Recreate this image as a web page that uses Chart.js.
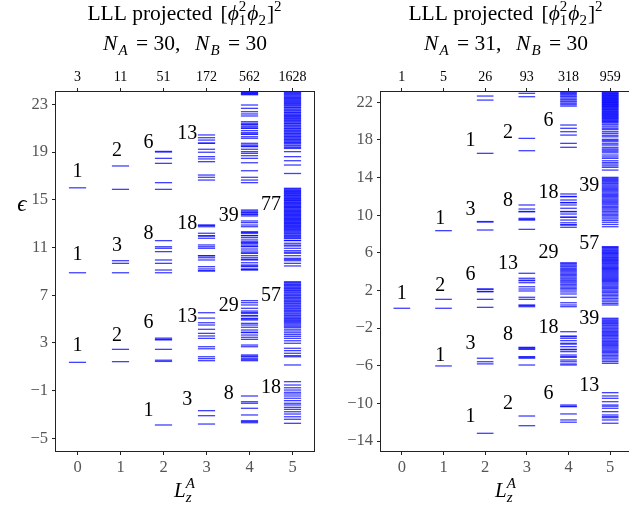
<!DOCTYPE html>
<html>
<head>
<meta charset="utf-8">
<script src="https://cdn.jsdelivr.net/npm/chart.js@4.4.1/dist/chart.umd.min.js"></script>
<style>
html, body { margin: 0; padding: 0; background: #fff; overflow: hidden; width: 629px; height: 508px; }
.box { position: absolute; top: 0; width: 330px; height: 508px; }
</style>
</head>
<body>
<div class="box" style="left:0"><canvas id="chartA" width="330" height="508"></canvas></div>
<div class="box" style="left:320px"><canvas id="chartB" width="330" height="508"></canvas></div>
<script>
// energy levels, one array per L_z^A sector
// left panel: N_A = 30, N_B = 30
const levelsA0 = [1.37, 8.88, 16.0];
const levelsA1 = [1.43, 2.46, 8.88, 9.67, 9.89, 15.87, 17.83];
const levelsA2 = [-3.88, 1.45, 1.55, 2.46, 3.25, 3.3, 3.4, 8.88, 9.11, 9.67, 9.95, 10.65, 10.93, 11.06, 11.57,
  15.87, 16.43, 18.05, 18.47, 19.0, 19.05];
const levelsA3 = [-3.8, -3.1, -2.68, 1.51, 1.68, 1.84, 2.51, 2.68, 3.38, 3.58, 3.8, 4.14, 4.5, 4.69, 5.08, 5.53,
  9.03, 9.05, 9.2, 9.39, 9.95, 10.14, 10.3, 10.31, 10.93, 11.06, 11.21, 11.77, 11.95, 11.99, 12.19, 12.74, 12.85, 12.88,
  16.65, 16.88, 17.07, 18.19, 18.42, 18.61, 18.98, 19.23, 19.73, 19.75, 20.0, 20.2, 20.43];
const levelsA4 = [-3.69, -3.6, -3.52, -3.04, -2.48, -2.06, -1.93, -1.45,
  1.51, 1.6, 1.71, 1.84, 1.9, 1.99, 2.68, 2.82, 3.3, 3.47, 3.66, 3.86, 3.9, 4.08, 4.31, 4.5, 4.64, 4.92, 5.0, 5.06,
  5.25, 5.3, 5.48, 5.55, 5.67, 5.9, 6.18, 6.37, 6.54,
  9.11, 9.15, 9.2, 9.39, 9.45, 9.53, 9.72, 9.95, 10.0, 10.14, 10.31, 10.51, 10.55, 10.7, 10.87, 11.06, 11.1, 11.21,
  11.35, 11.4, 11.48, 11.63, 11.82, 11.99, 12.0, 12.19, 12.25, 12.32, 12.74, 12.88, 13.08, 13.22, 13.64, 13.75, 13.8,
  13.9, 13.95, 14.05, 14.14,
  16.43, 16.65, 16.88, 17.43, 18.1, 18.47, 18.69, 18.89, 19.03, 19.23, 19.45, 19.5, 19.59, 19.73, 20.15, 20.28, 20.49,
  20.5, 20.62, 20.79, 20.99, 21.0, 21.12, 21.27, 21.3, 21.41, 21.54, 22.02, 22.19, 22.38, 22.66, 22.94,
  23.8, 23.85, 23.9, 23.95, 24.0];
const levelsA5 = [-3.74, -3.4, -3.19, -2.96, -2.77, -2.57, -2.4, -2.2, -2.06, -1.84, -1.64, -1.45, -1.28, -1.14, -0.95,
  -0.76, -0.53, -0.25,
  1.15, 1.84, 1.93, 2.13, 2.35, 2.55, 2.97, 3.18, 3.38, 3.55, 3.7, 3.85, 4.0, 4.15, 4.3, 4.4, 4.5, 4.6, 4.7, 4.8, 4.88,
  4.98, 5.05, 5.15, 5.25, 5.32, 5.42, 5.5, 5.6, 5.68, 5.75, 5.85, 5.92, 6.02, 6.1, 6.18, 6.28, 6.35, 6.45, 6.52, 6.6,
  6.7, 6.78, 6.85, 6.95, 7.02, 7.1, 7.2, 7.28, 7.38, 7.45, 7.55, 7.62, 7.7, 7.8, 7.88, 7.95, 8.05, 8.13,
  9.45, 9.67, 9.89, 10.0, 10.09, 10.31, 10.51, 10.6, 10.73, 10.93, 11.12, 11.2, 11.35, 11.57, 11.6, 11.77, 11.8, 11.9,
  11.98, 12.05, 12.15, 12.22, 12.3, 12.38, 12.45, 12.52, 12.6, 12.68, 12.75, 12.82, 12.88, 12.95, 13.02, 13.08, 13.15,
  13.22, 13.28, 13.35, 13.42, 13.48, 13.55, 13.62, 13.68, 13.75, 13.82, 13.88, 13.95, 14.02, 14.08, 14.15, 14.22,
  14.3, 14.35, 14.42, 14.48, 14.55, 14.62, 14.7, 14.75, 14.82, 14.9, 14.95, 15.02, 15.1, 15.15, 15.22, 15.3, 15.35,
  15.42, 15.5, 15.55, 15.62, 15.7, 15.75, 15.82, 15.9, 15.96,
  17.2, 17.91, 18.27, 18.61, 19.03, 19.3, 19.38, 19.5, 19.58, 19.7, 19.8, 19.85, 19.95, 20.05, 20.1, 20.2, 20.3,
  20.35, 20.45, 20.55, 20.6, 20.7, 20.78, 20.85, 20.95, 21.0, 21.1, 21.18, 21.25, 21.35, 21.4, 21.5, 21.58, 21.65,
  21.75, 21.8, 21.9, 21.98, 22.05, 22.12, 22.2, 22.3, 22.35, 22.45, 22.52, 22.6, 22.7, 22.75, 22.85, 22.92, 23.0,
  23.08, 23.15, 23.25, 23.3, 23.4, 23.48, 23.55, 23.62, 23.7, 23.78, 23.85, 23.92, 24.0];

// right panel: N_A = 31, N_B = 30
const levelsB0 = [0.11];
const levelsB1 = [-6.02, 0.11, 1.06, 8.36];
const levelsB2 = [-13.18, -5.8, -5.57, -5.2, 0.21, 1.06, 1.87, 1.9, 2.13, 2.16, 8.43, 9.28, 9.33, 16.58, 22.24, 22.67];
const levelsB3 = [-12.37, -11.34, -5.92, -5.2, -5.1, -5.03, -4.25, -4.2, -4.1, -4.04,
  0.28, 0.4, 0.46, 1.06, 1.28, 1.95, 2.16, 2.4, 2.83, 3.04, 3.1, 3.3, 3.83,
  8.5, 9.49, 9.55, 9.67, 10.37, 10.4, 10.66, 11.09, 16.86, 18.17, 22.6, 22.96];
const levelsB4 = [-12.0, -11.76, -11.12, -10.35, -10.3, -10.17,
  -5.92, -5.81, -5.57, -5.39, -5.1, -5.03, -4.86, -4.5, -4.3, -4.25, -3.97, -3.7, -3.61, -3.33, -3.08, -2.9, -2.84, -2.38,
  0.28, 0.46, 0.7, 1.28, 1.63, 1.85, 2.05, 2.2, 2.35, 2.5, 2.65, 2.8, 2.92, 3.05, 3.2, 3.32, 3.45, 3.6, 3.72, 3.85,
  3.98, 4.1, 4.22, 4.35, 4.5, 4.6, 4.72, 4.85, 4.95,
  8.72, 8.96, 9.0, 9.2, 9.49, 9.78, 9.8, 10.13, 10.37, 10.4, 10.74, 11.09, 11.33, 11.35, 11.62, 11.97, 12.0, 12.26,
  17.22, 17.64, 18.52, 18.88, 19.24, 19.59,
  21.6, 21.75, 21.9, 22.05, 22.15, 22.3, 22.45, 22.6, 22.7, 22.85, 22.95, 23.05];
const levelsB5 = [-12.11, -11.76, -11.52, -11.4, -11.23, -10.88, -10.52, -10.3, -10.17, -9.82, -9.46, -9.21, -8.86,
  -5.74, -5.55, -5.38, -5.2, -5.05, -4.9, -4.75, -4.6, -4.48, -4.35, -4.22, -4.1, -3.98, -3.85, -3.75, -3.62, -3.5,
  -3.4, -3.28, -3.15, -3.05, -2.92, -2.8, -2.7, -2.58, -2.45, -2.35, -2.22, -2.1, -2.0, -1.88, -1.75, -1.65, -1.52,
  -1.42, -1.3, -1.18, -1.05, -0.95,
  0.46, 0.62, 0.8, 0.98, 1.15, 1.32, 1.48, 1.62, 1.78, 1.92, 2.05, 2.2, 2.32, 2.45, 2.58, 2.7, 2.82, 2.95, 3.05,
  3.15, 3.25, 3.35, 3.45, 3.55, 3.65, 3.75, 3.85, 3.95, 4.05, 4.15, 4.25, 4.35, 4.42, 4.52, 4.62, 4.72, 4.82, 4.9,
  5.0, 5.1, 5.2, 5.28, 5.38, 5.48, 5.55, 5.65, 5.75, 5.85, 5.95, 6.02, 6.12, 6.22, 6.3, 6.4, 6.5, 6.58, 6.66,
  8.78, 9.02, 9.25, 9.45, 9.62, 9.8, 9.95, 10.1, 10.25, 10.4, 10.55, 10.68, 10.82, 10.95, 11.1, 11.22, 11.35, 11.48,
  11.6, 11.72, 11.85, 11.98, 12.1, 12.22, 12.35, 12.48, 12.6, 12.72, 12.85, 12.98, 13.1, 13.22, 13.35, 13.45, 13.58,
  13.7, 13.8, 13.92, 14.03,
  14.8, 15.09, 15.25, 15.44, 15.6, 15.79, 16.05, 16.2, 16.4, 16.64, 16.8, 16.93, 17.05, 17.22, 17.46, 17.6, 17.81,
  17.95, 18.07, 18.34, 18.5, 18.7, 18.88, 19.1, 19.24, 19.4, 19.59, 19.7,
  19.85, 19.95, 20.02, 20.1, 20.2, 20.28, 20.35, 20.42, 20.5, 20.58, 20.65, 20.72, 20.8, 20.88, 20.95, 21.02, 21.1,
  21.18, 21.25, 21.32, 21.4, 21.48, 21.55, 21.6, 21.68, 21.75, 21.8, 21.88, 21.95, 22.0, 22.08, 22.15, 22.2, 22.28,
  22.35, 22.4, 22.48, 22.55, 22.6, 22.68, 22.75, 22.8, 22.88, 22.95, 23.0, 23.08];

// number of states per sector (top axis)
const countsA = [3, 11, 51, 172, 562, 1628];
const countsB = [1, 5, 26, 93, 318, 959];

// band multiplicities and the energy where each label sits: [L, energy, label]
const bandLabelsA = [
  [0, 17.37, '1'], [0, 10.37, '1'], [0, 2.78, '1'],
  [1, 19.1, '2'], [1, 11.12, '3'], [1, 3.6, '2'],
  [2, 19.8, '6'], [2, 12.13, '8'], [2, 4.71, '6'], [2, -2.68, '1'],
  [3, 20.57, '13'], [3, 13.02, '18'], [3, 5.2, '13'], [3, -1.76, '3'],
  [4, 13.65, '39'], [4, 6.14, '29'], [4, -1.22, '8'],
  [5, 14.56, '77'], [5, 6.95, '57'], [5, -0.77, '18']
];
const bandLabelsB = [
  [0, 1.7, '1'],
  [1, 9.58, '1'], [1, 2.48, '2'], [1, -4.94, '1'],
  [2, 17.96, '1'], [2, 10.55, '3'], [2, 3.65, '6'], [2, -3.61, '3'], [2, -11.41, '1'],
  [3, 18.79, '2'], [3, 11.53, '8'], [3, 4.89, '13'], [3, -2.73, '8'], [3, -9.99, '2'],
  [4, 20.04, '6'], [4, 12.41, '18'], [4, 6.04, '29'], [4, -1.93, '18'], [4, -9.02, '6'],
  [5, 13.13, '39'], [5, 6.92, '57'], [5, -1.05, '39'], [5, -8.13, '13']
];

const xTicks = [0, 1, 2, 3, 4, 5];
const yTicksA = [-5, -1, 3, 7, 11, 15, 19, 23];
const yTicksB = [-14, -10, -6, -2, 2, 6, 10, 14, 18, 22];

const SERIF = '"Liberation Serif", "DejaVu Serif", serif';
const labelShift = [0, 0.92, 1.65, 2.55, 3.52, 4.5];
const halfWidth = 0.2;

function font(it, size) {
  return (it ? 'italic ' : '') + size + 'px ' + SERIF;
}

// draws a short run of text with sub/superscripts, centred on cx
function drawRich(ctx, parts, cx, baseY, size) {
  const small = Math.round(size * 0.7);
  const widths = parts.map(p => {
    if (p.stack) {
      ctx.font = font(p.it, small);
      return Math.max(ctx.measureText(p.stack[0]).width, ctx.measureText(p.stack[1]).width) + 1;
    }
    ctx.font = font(p.it, p.pos ? small : size);
    return ctx.measureText(p.t).width + (p.pos ? 1 : 0) + (p.extra || 0);
  });
  let x = cx - widths.reduce((a, b) => a + b, 0) / 2;
  ctx.textAlign = 'left';
  ctx.textBaseline = 'alphabetic';
  parts.forEach((p, i) => {
    if (p.stack) {
      ctx.font = font(p.it, small);
      ctx.fillText(p.stack[0], x, baseY - size * 0.42);
      ctx.fillText(p.stack[1], x, baseY + size * 0.25);
    } else {
      ctx.font = font(p.it, p.pos ? small : size);
      const dy = p.pos === 'sup' ? -size * 0.42 : p.pos === 'sub' ? size * 0.25 : 0;
      ctx.fillText(p.t, x, baseY + dy);
    }
    x += widths[i];
  });
}

function makeSpectrum(id, levels, counts, yMin, yMax, yTicks, bandLabels, nA, axisW, padRight, yLabel) {
  const points = [];
  levels.forEach((arr, L) => arr.forEach(e => points.push({ x: L, y: e })));

  const decor = {
    id: 'decor',
    afterDraw(chart) {
      const { ctx, chartArea: a, scales } = chart;
      ctx.save();
      ctx.strokeStyle = '#222';
      ctx.lineWidth = 1;
      ctx.strokeRect(Math.round(a.left) - 0.5, Math.round(a.top) - 0.5,
        Math.round(a.right - a.left) + 1, Math.round(a.bottom - a.top) + 1);

      ctx.fillStyle = '#000';
      ctx.textAlign = 'center';
      ctx.textBaseline = 'middle';
      ctx.font = font(false, 20);
      bandLabels.forEach(([L, e, txt]) => {
        ctx.fillText(txt, scales.x.getPixelForValue(labelShift[L]), scales.y.getPixelForValue(e));
      });

      const cx = (a.left + a.right) / 2;
      drawRich(ctx, [
        { t: 'LLL projected ', extra: 3 }, { t: '[' }, { t: 'ϕ', it: true }, { stack: ['2', '1'] },
        { t: 'ϕ', it: true }, { t: '2', pos: 'sub' }, { t: ']' }, { t: '2', pos: 'sup' }
      ], cx, 20, 21.5);
      drawRich(ctx, [
        { t: 'N', it: true, extra: 1 }, { t: 'A', it: true, pos: 'sub', extra: 2 }, { t: ' = ' + nA + ',  ', extra: 4 },
        { t: 'N', it: true, extra: 1 }, { t: 'B', it: true, pos: 'sub', extra: 2 }, { t: ' = 30' }
      ], cx, 50, 21.5);
      drawRich(ctx, [{ t: 'L', it: true }, { stack: ['A', 'z'], it: true }], cx, 497, 21);

      if (yLabel) {
        ctx.font = font(true, 23);
        ctx.textAlign = 'center';
        ctx.textBaseline = 'middle';
        ctx.fillText('ϵ', 22, 205);
      }
      ctx.restore();
    }
  };

  const tickGrid = { drawOnChartArea: false, drawTicks: true, tickLength: 4, color: '#222' };

  return new Chart(document.getElementById(id), {
    type: 'scatter',
    data: {
      datasets: [{
        data: points,
        showLine: false,
        pointStyle: 'line',
        pointRadius: c => {
          const s = c.chart.scales.x;
          return s.getPixelForValue(halfWidth) - s.getPixelForValue(0);
        },
        pointBorderColor: 'rgba(0, 0, 255, 0.75)',
        pointBackgroundColor: 'rgba(0, 0, 0, 0)',
        pointBorderWidth: 1.3
      }]
    },
    options: {
      responsive: false,
      animation: false,
      devicePixelRatio: 1,
      events: [],
      layout: { padding: { top: 70, bottom: 30, left: 0, right: padRight } },
      plugins: { legend: { display: false }, tooltip: { enabled: false } },
      scales: {
        x: {
          type: 'linear', position: 'bottom', min: -0.5, max: 5.5,
          afterBuildTicks: s => { s.ticks = xTicks.map(v => ({ value: v })); },
          afterFit: s => { s.height = 27; },
          grid: tickGrid, border: { display: false },
          ticks: { font: { family: SERIF, size: 16.5 }, color: '#555', padding: 3, maxRotation: 0, autoSkip: false }
        },
        x2: {
          type: 'linear', position: 'top', min: -0.5, max: 5.5,
          afterBuildTicks: s => { s.ticks = xTicks.map(v => ({ value: v })); },
          afterFit: s => { s.height = 22; },
          grid: tickGrid, border: { display: false },
          ticks: { font: { family: SERIF, size: 14 }, color: '#000', padding: 2, maxRotation: 0, autoSkip: false,
            callback: v => counts[v] }
        },
        y: {
          type: 'linear', min: yMin, max: yMax,
          afterBuildTicks: s => { s.ticks = yTicks.map(v => ({ value: v })); },
          afterFit: s => { s.width = axisW; },
          grid: tickGrid, border: { display: false },
          ticks: { font: { family: SERIF, size: 16.5 }, color: '#555', padding: 4, autoSkip: false,
            callback: v => String(v).replace('-', '\u2212') }
        }
      }
    },
    plugins: [decor]
  });
}

makeSpectrum('chartA', [levelsA0, levelsA1, levelsA2, levelsA3, levelsA4, levelsA5], countsA,
  -6.06, 24.03, yTicksA, bandLabelsA, 30, 56, 16, true);
makeSpectrum('chartB', [levelsB0, levelsB1, levelsB2, levelsB3, levelsB4, levelsB5], countsB,
  -15.06, 23.1, yTicksB, bandLabelsB, 31, 61, 19, false);
</script>
</body>
</html>
